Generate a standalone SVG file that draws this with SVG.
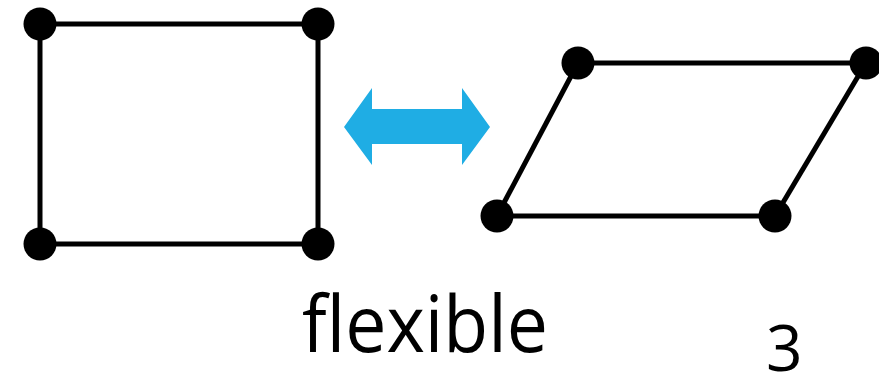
<svg xmlns="http://www.w3.org/2000/svg" width="879" height="374" viewBox="0 0 879 374">
  <style>
    .edge { stroke: #000; stroke-width: 5; fill: none; }
    .dot { fill: #000; }
    .label { font-family: "Open Sans", "Noto Sans", sans-serif; fill: #000; }
  </style>
  <rect width="879" height="374" fill="#fff"/>
  <g id="connectors">
    <!-- square -->
    <line class="edge" x1="40" y1="24" x2="318" y2="24"/>
    <line class="edge" x1="318" y1="24" x2="318" y2="244"/>
    <line class="edge" x1="318" y1="244" x2="40" y2="244"/>
    <line class="edge" x1="40" y1="244" x2="40" y2="24"/>
    <!-- parallelogram -->
    <line class="edge" x1="578" y1="63" x2="866" y2="63"/>
    <line class="edge" x1="866" y1="63" x2="775" y2="216"/>
    <line class="edge" x1="775" y1="216" x2="497" y2="216"/>
    <line class="edge" x1="497" y1="216" x2="578" y2="63"/>
  </g>
  <g id="sq-tl"><circle class="dot" cx="40" cy="24" r="16.5"/></g>
  <g id="sq-tr"><circle class="dot" cx="318" cy="24" r="16.5"/></g>
  <g id="sq-bl"><circle class="dot" cx="40" cy="244" r="16.5"/></g>
  <g id="sq-br"><circle class="dot" cx="318" cy="244" r="16.5"/></g>
  <g id="pg-tl"><circle class="dot" cx="578" cy="63" r="16.5"/></g>
  <g id="pg-tr"><circle class="dot" cx="866" cy="63" r="16.5"/></g>
  <g id="pg-bl"><circle class="dot" cx="497" cy="216" r="16.5"/></g>
  <g id="pg-br"><circle class="dot" cx="775" cy="216" r="16.5"/></g>
  <g id="double-arrow">
    <polygon fill="#1FADE4" points="344,127 372,88 372,109 462,109 462,88 490,127 462,165 462,144 372,144 372,165"/>
  </g>
  <g id="caption">
    <text class="label" x="302" y="352" font-size="78" textLength="246" lengthAdjust="spacingAndGlyphs">flexible</text>
  </g>
  <g id="page-number">
    <text class="label" x="766" y="371" font-size="64">3</text>
  </g>
</svg>
